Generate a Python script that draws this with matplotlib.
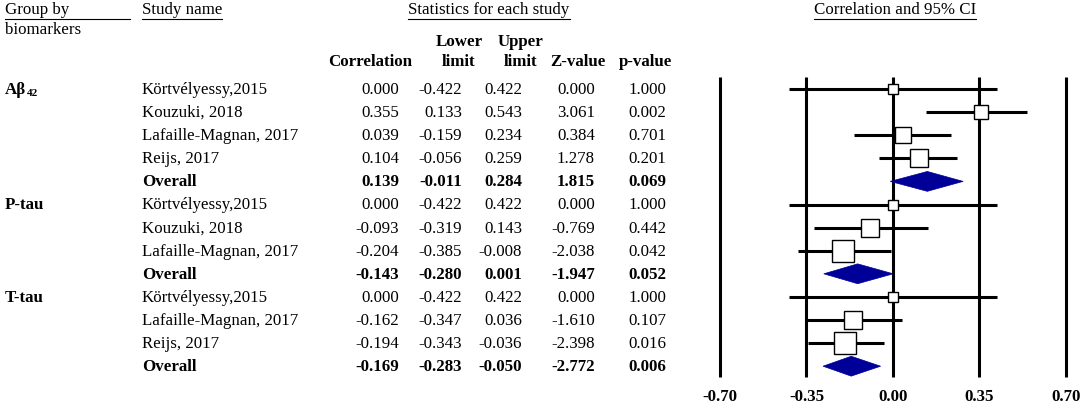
import matplotlib
matplotlib.use("Agg")
import matplotlib.pyplot as plt
from matplotlib.patches import Polygon

plt.rcParams['font.family'] = ['Liberation Serif', 'DejaVu Serif']

# data
groups = ["Aβ", "P-tau", "T-tau"]
group_rows = [0, 5, 9]
studies = ["Körtvélyessy,2015", "Kouzuki, 2018", "Lafaille-Magnan, 2017", "Reijs, 2017", "Overall",
           "Körtvélyessy,2015", "Kouzuki, 2018", "Lafaille-Magnan, 2017", "Overall",
           "Körtvélyessy,2015", "Lafaille-Magnan, 2017", "Reijs, 2017", "Overall"]
corr = [0.000, 0.355, 0.039, 0.104, 0.139, 0.000, -0.093, -0.204, -0.143, 0.000, -0.162, -0.194, -0.169]
lower = [-0.422, 0.133, -0.159, -0.056, -0.011, -0.422, -0.319, -0.385, -0.280, -0.422, -0.347, -0.343, -0.283]
upper = [0.422, 0.543, 0.234, 0.259, 0.284, 0.422, 0.143, -0.008, 0.001, 0.422, 0.036, -0.036, -0.050]
zval = [0.000, 3.061, 0.384, 1.278, 1.815, 0.000, -0.769, -2.038, -1.947, 0.000, -1.610, -2.398, -2.772]
pval = [1.000, 0.002, 0.701, 0.201, 0.069, 1.000, 0.442, 0.042, 0.052, 1.000, 0.107, 0.016, 0.006]
weight = [1, 3, 3.5, 4, 0, 1, 4, 5.5, 0, 1, 4, 6, 0]   # relative box weight
ticks = [-0.70, -0.35, 0.00, 0.35, 0.70]

W, H = 1084, 406
fig = plt.figure(figsize=(W / 100, H / 100), dpi=100)

# rows are 23.1 px apart, first row at 90 px from the top
y0, dy = 90, 23.1
ylim = ((H - y0) / dy, -y0 / dy)
def py(p):
    return (p - y0) / dy

# table part, x in pixels
ax = fig.add_axes([0, 0, 1, 1])
ax.set_xlim(0, W)
ax.set_ylim(*ylim)
ax.axis("off")

fs = 12.2
hdr = []
hdr.append(ax.text(5, py(10), "Group by", fontsize=fs, va="center"))
ax.text(5, py(30), "biomarkers", fontsize=fs, va="center")
hdr.append(ax.text(142, py(10), "Study name", fontsize=fs, va="center"))
hdr.append(ax.text(489, py(10), "Statistics for each study", fontsize=fs, va="center", ha="center"))
hdr.append(ax.text(895, py(10), "Correlation and 95% CI", fontsize=fs, va="center", ha="center"))

ax.text(370, py(62), "Correlation", fontsize=fs, weight="bold", ha="center", va="center")
ax.text(459, py(42), "Lower", fontsize=fs, weight="bold", ha="center", va="center")
ax.text(459, py(62), "limit", fontsize=fs, weight="bold", ha="center", va="center")
ax.text(521, py(42), "Upper", fontsize=fs, weight="bold", ha="center", va="center")
ax.text(521, py(62), "limit", fontsize=fs, weight="bold", ha="center", va="center")
ax.text(578, py(62), "Z-value", fontsize=fs, weight="bold", ha="center", va="center")
ax.text(646, py(62), "p-value", fontsize=fs, weight="bold", ha="center", va="center")

glabels = [ax.text(5, r, g, fontsize=fs, weight="bold", va="center")
           for g, r in zip(groups, group_rows)]

cols = [(399, corr), (462, lower), (522, upper), (595, zval), (666, pval)]
for i, name in enumerate(studies):
    wt = "bold" if name == "Overall" else "normal"
    ax.text(142, i, name, fontsize=fs, weight=wt, va="center")
    for x, vals in cols:
        ax.text(x, i, f"{vals[i]:.3f}", fontsize=fs, weight=wt, va="center", ha="right")

# underline headers, subscript for A-beta
fig.canvas.draw()
rend = fig.canvas.get_renderer()
inv = ax.transData.inverted()
for k, t in enumerate(hdr):
    bb = t.get_window_extent(rend)
    (xa, _), (xb, _) = inv.transform([(bb.x0, bb.y0), (bb.x1, bb.y0)])
    if k == 0:
        xb = 130
    ax.plot([xa, xb], [py(19.5), py(19.5)], color="black", lw=0.8)

bb = glabels[0].get_window_extent(rend)
xsub = inv.transform((bb.x1, bb.y0))[0] + 1
ax.text(xsub, group_rows[0] + 0.17, "42", fontsize=8, weight="bold", va="center")

# forest plot, x in correlation units
scale = 247.1
left = 720 - 0.05 * scale
fa = fig.add_axes([left / W, 0, 1.5 * scale / W, 1])
fa.set_xlim(-0.75, 0.75)
fa.set_ylim(*ylim)
fa.axis("off")

fa.vlines(ticks, -0.52, 12.47, color="black", lw=2.2, zorder=1)
for t in ticks:
    fa.text(t, py(397), f"{t:.2f}", fontsize=fs, weight="bold", ha="center", va="center")

for i, name in enumerate(studies):
    if name == "Overall":
        h = 0.43
        fa.add_patch(Polygon([(lower[i], i), (corr[i], i - h), (upper[i], i), (corr[i], i + h)],
                             closed=True, facecolor="#000099", edgecolor="#000099", lw=0.5, zorder=3))
    else:
        fa.plot([lower[i], upper[i]], [i, i], color="black", lw=2.2, zorder=2, solid_capstyle="butt")
        fa.plot(corr[i], i, marker="s", markersize=5 + 1.9 * weight[i], markerfacecolor="white",
                markeredgecolor="black", markeredgewidth=1.0, zorder=4)

fig.savefig("out.png", dpi=100)
